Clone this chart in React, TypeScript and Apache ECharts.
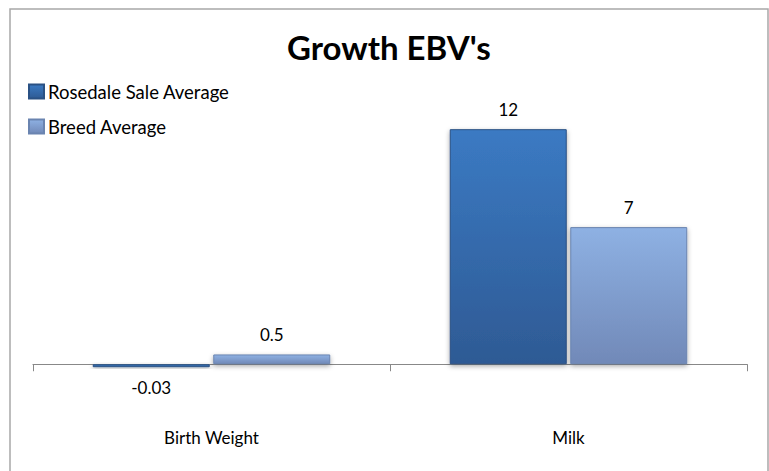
import React, { useEffect, useRef } from "react";
import * as echarts from "echarts";

const categories = ["Birth Weight", "Milk"];
const rosedaleValues = [-0.03, 12];
const breedValues = [0.5, 7];
const seriesNames = ["Rosedale Sale Average", "Breed Average"];

const FONT = "Lato, 'Open Sans', sans-serif";

function withLabelPos(values: number[]) {
  return values.map((v) =>
    v < 0 ? { value: v, label: { position: "bottom", distance: 12 } } : v
  );
}

export default function App() {
  const ref = useRef<HTMLDivElement>(null);
  useEffect(() => {
    if (!ref.current) return;
    const chart = echarts.init(ref.current, undefined, { renderer: "svg" });
    const darkGrad = new echarts.graphic.LinearGradient(0, 0, 0, 1, [
      { offset: 0, color: "#3b7ac3" },
      { offset: 1, color: "#2e5a94" },
    ]);
    const lightGrad = new echarts.graphic.LinearGradient(0, 0, 0, 1, [
      { offset: 0, color: "#8eb1e3" },
      { offset: 1, color: "#7189b8" },
    ]);
    const labelStyle = {
      show: true,
      position: "top",
      distance: 11,
      fontFamily: FONT,
      fontSize: 17,
      color: "#000",
    };
    chart.setOption({
      animation: false,
      graphic: [
        {
          type: "rect",
          shape: { x: 10, y: 9, width: 758, height: 480 },
          style: { fill: "none", stroke: "#a8a8a8", lineWidth: 1.5 },
          silent: true,
        },
      ],
      title: {
        text: "Growth EBV's",
        left: 282,
        top: 25,
        textStyle: {
          fontFamily: FONT,
          fontSize: 33,
          fontWeight: "bold",
          color: "#000",
        },
      },
      legend: {
        orient: "vertical",
        left: 23,
        top: 77,
        itemWidth: 15,
        itemHeight: 14,
        itemGap: 16,
        icon: "rect",
        data: seriesNames,
        textStyle: { fontFamily: FONT, fontSize: 18.5, color: "#000", padding: [0, 0, 0, -1] },
      },
      grid: { left: 33, right: 22, top: 90, bottom: 48, outerBoundsMode: "none" },
      xAxis: {
        type: "category",
        data: categories,
        axisLine: { onZero: true, lineStyle: { color: "#888", width: 1.2 } },
        axisTick: { show: true, length: 7, lineStyle: { color: "#888" } },
        axisLabel: {
          margin: 6,
          fontFamily: FONT,
          fontSize: 17,
          color: "#000",
        },
        splitLine: { show: false },
      },
      yAxis: {
        type: "value",
        min: -3,
        max: 14,
        show: false,
        splitLine: { show: false },
      },
      series: [
        {
          name: seriesNames[0],
          type: "bar",
          data: withLabelPos(rosedaleValues),
          barWidth: 117,
          barGap: "3%",
          barMinHeight: 3,
          itemStyle: {
            color: darkGrad,
            borderColor: "#2a5184",
            borderWidth: 1,
            shadowBlur: 5,
            shadowColor: "rgba(0,0,0,0.35)",
            shadowOffsetY: 2,
          },
          label: labelStyle,
          z: 3,
        },
        {
          name: seriesNames[1],
          type: "bar",
          data: withLabelPos(breedValues),
          barWidth: 117,
          itemStyle: {
            color: lightGrad,
            borderColor: "#6a84b0",
            borderWidth: 1,
            shadowBlur: 5,
            shadowColor: "rgba(0,0,0,0.35)",
            shadowOffsetY: 2,
          },
          label: labelStyle,
          z: 3,
        },
      ],
    });
    return () => chart.dispose();
  }, []);
  return (
    <div
      ref={ref}
      style={{ position: "absolute", left: 0, top: 0, width: 769, height: 471 }}
    />
  );
}
